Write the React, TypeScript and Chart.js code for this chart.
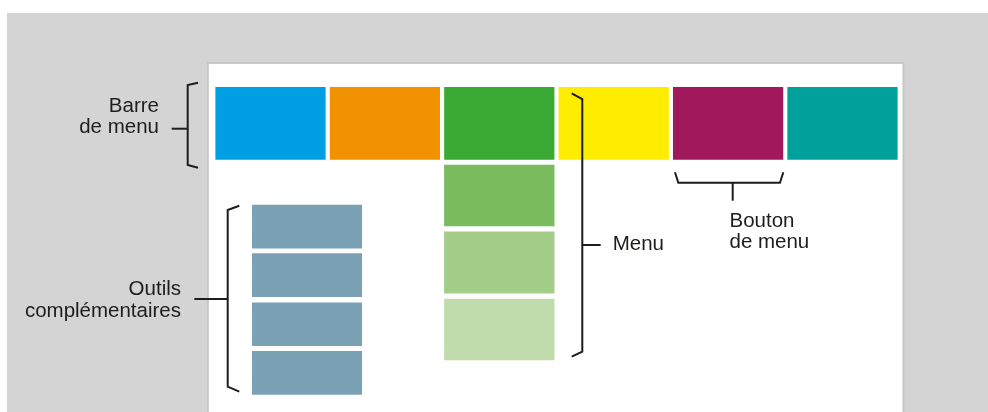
import React, { useEffect, useRef } from 'react';
import { Chart, registerables } from 'chart.js';

Chart.register(...registerables);

// ---- Data (diagram units: x = menu column, y = menu-bar heights from top of the menu bar) ----
const menuColumns = [0, 1, 2, 3, 4, 5];
const menuColors = ['#009fe3', '#f39200', '#3aaa35', '#ffed00', '#a2195b', '#00a19a'];
const menuBarSpan: [number, number] = [0, 1];

const subMenuColumn = 2;
const subMenuColors = ['#7abb5e', '#a3cd88', '#c0dcad'];
const subMenuSpans: [number, number][] = [
  [1.079, 1.926],
  [2.006, 2.861],
  [2.94, 3.788],
];

const toolsColumn = 0.319;
const toolsColor = '#7ba1b4';
const toolsSpans: [number, number][] = [
  [1.635, 2.236],
  [2.311, 2.908],
  [2.992, 3.589],
  [3.667, 4.264],
];

const panelColumn = 2.4926;
const panelSpan: [number, number] = [-0.347, 5];

// Bracket paths (diagram units)
const barreBracket = [[-0.6337, -0.0639], [-0.7238, -0.0319], [-0.7238, 1.0792], [-0.6337, 1.1167]];
const barreTick = [[-0.8636, 0.575], [-0.7238, 0.575]];
const menuBracket = [[2.6329, 0.0833], [2.7255, 0.1625], [2.7255, 3.6722], [2.6329, 3.7417]];
const menuTick = [[2.7255, 2.1903], [2.8864, 2.1903]];
const boutonBracket = [[3.5358, 1.1806], [3.5647, 1.325], [4.4537, 1.325], [4.4825, 1.1806]];
const boutonTick = [[4.0402, 1.325], [4.0402, 1.575]];
const outilsBracket = [[-0.2727, 1.6444], [-0.3741, 1.7042], [-0.3741, 4.1583], [-0.2727, 4.2278]];
const outilsTick = [[-0.6661, 2.9403], [-0.3741, 2.9403]];

// Labels
const barreLabel = ['Barre', 'de menu'];
const menuLabel = ['Menu'];
const boutonLabel = ['Bouton', 'de menu'];
const outilsLabel = ['Outils', 'complémentaires'];

const labelSpecs = [
  { lines: barreLabel, x: -0.9747, baselines: [0.3389, 0.6347], align: 'right' },
  { lines: menuLabel, x: 2.9913, baselines: [2.2597], align: 'left' },
  { lines: boutonLabel, x: 4.0122, baselines: [1.9444, 2.2278], align: 'left' },
  { lines: outilsLabel, x: -0.7823, baselines: [2.8847, 3.1944], align: 'right' },
];

const bracketPaths = [barreBracket, barreTick, menuBracket, menuTick, boutonBracket, boutonTick, outilsBracket, outilsTick];

const inkColor = '#1d1d1b';
const bgGray = '#d4d4d4';
const panelBorder = '#c6c6c6';

const annotationPlugin = {
  id: 'diagramAnnotations',
  afterDatasetsDraw(chart: any) {
    const { ctx } = chart;
    const xs = chart.scales.x;
    const ys = chart.scales.y;
    ctx.save();
    ctx.strokeStyle = inkColor;
    ctx.lineWidth = 2;
    ctx.lineJoin = 'miter';
    ctx.lineCap = 'butt';
    for (const path of bracketPaths) {
      ctx.beginPath();
      path.forEach(([px, py], i) => {
        const X = xs.getPixelForValue(px);
        const Y = ys.getPixelForValue(py);
        if (i === 0) ctx.moveTo(X, Y);
        else ctx.lineTo(X, Y);
      });
      ctx.stroke();
    }
    ctx.fillStyle = inkColor;
    ctx.font = '20.5px "Liberation Sans", Arial, Helvetica, sans-serif';
    ctx.textBaseline = 'alphabetic';
    for (const lab of labelSpecs) {
      ctx.textAlign = lab.align as CanvasTextAlign;
      lab.lines.forEach((t, i) => {
        ctx.fillText(t, xs.getPixelForValue(lab.x), ys.getPixelForValue(lab.baselines[i]));
      });
    }
    ctx.restore();
  },
};

export default function App() {
  const canvasRef = useRef<HTMLCanvasElement | null>(null);

  useEffect(() => {
    if (!canvasRef.current) return;
    const chart = new Chart(canvasRef.current, {
      type: 'bar',
      data: {
        datasets: [
          {
            label: 'panel',
            data: [{ x: panelColumn, y: panelSpan }] as any,
            backgroundColor: '#ffffff',
            borderColor: panelBorder,
            borderWidth: 2,
            borderSkipped: false,
            barThickness: 697,
            grouped: false,
            order: 10,
          } as any,
          {
            label: 'Barre de menu',
            data: menuColumns.map((c) => ({ x: c, y: menuBarSpan })) as any,
            backgroundColor: menuColors,
            borderWidth: 0,
            barThickness: 109.6,
            grouped: false,
            order: 1,
          } as any,
          {
            label: 'Menu',
            data: subMenuSpans.map((s) => ({ x: subMenuColumn, y: s })) as any,
            backgroundColor: subMenuColors,
            borderWidth: 0,
            barThickness: 109.7,
            grouped: false,
            order: 1,
          } as any,
          {
            label: 'Outils complémentaires',
            data: toolsSpans.map((s) => ({ x: toolsColumn, y: s })) as any,
            backgroundColor: toolsColor,
            borderWidth: 0,
            barThickness: 109.4,
            grouped: false,
            order: 1,
          } as any,
        ],
      },
      options: {
        animation: false,
        responsive: false,
        events: [],
        layout: { padding: 0 },
        plugins: {
          legend: { display: false },
          tooltip: { enabled: false },
        },
        scales: {
          x: { type: 'linear', display: false, offset: false, min: -2.3033, max: 6.2719 },
          y: { type: 'linear', display: false, offset: false, reverse: true, min: -1.0319, max: 4.5098 },
        },
      },
      plugins: [annotationPlugin],
    } as any);
    return () => chart.destroy();
  }, []);

  return (
    <div
      style={{
        position: 'absolute',
        left: 7,
        top: 13,
        width: 981,
        height: 399,
        background: bgGray,
        overflow: 'hidden',
      }}
    >
      <canvas ref={canvasRef} width={981} height={399} style={{ display: 'block' }} />
    </div>
  );
}
